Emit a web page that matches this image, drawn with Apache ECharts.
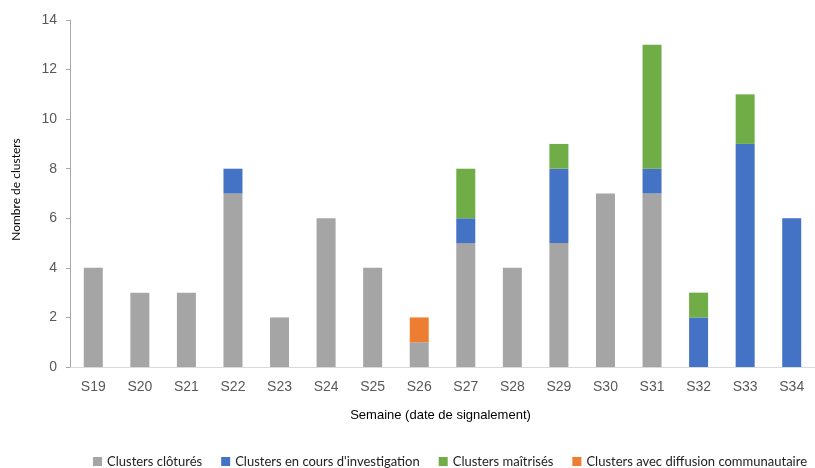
<!DOCTYPE html>
<html><head><meta charset="utf-8">
<script src="https://cdn.jsdelivr.net/npm/echarts@6/dist/echarts.min.js"></script>
<style>html,body{margin:0;padding:0;background:#fff}#c{width:815px;height:468px}</style>
</head><body><div id="c"></div>
<script>
const categories = ['S19','S20','S21','S22','S23','S24','S25','S26','S27','S28','S29','S30','S31','S32','S33','S34'];
const clotures =      [4,3,3,7,2,6,4,1,5,4,5,7,7,0,0,0];
const investigation = [0,0,0,1,0,0,0,0,1,0,3,0,1,2,9,6];
const maitrises =     [0,0,0,0,0,0,0,0,2,0,1,0,5,1,2,0];
const communautaire = [0,0,0,0,0,0,0,1,0,0,0,0,0,0,0,0];
const yTicks = [0,2,4,6,8,10,12,14];

const chart = echarts.init(document.getElementById('c'));
const mk = (name, data, color) => ({
  name, type: 'bar', stack: 'a', data: data.map(v => v === 0 ? null : v),
  barWidth: 19, itemStyle: {color}
});
chart.setOption({
  animation: false,
  textStyle: {fontFamily: 'Liberation Sans'},
  grid: {left: 70, right: -8, top: 20, bottom: 101},
  legend: {
    bottom: 0, left: 88, padding: [0, 5], itemWidth: 9, itemHeight: 9, itemGap: 19, icon: 'rect',
    textStyle: {fontFamily: 'Lato', fontSize: 13, color: '#222'},
    data: ['Clusters clôturés','Clusters en cours d\'investigation','Clusters maîtrisés','Clusters avec diffusion communautaire']
  },
  xAxis: {
    type: 'category', data: categories,
    name: 'Semaine (date de signalement)', nameLocation: 'middle', nameGap: 42,
    nameTextStyle: {fontSize: 13, color: '#000', padding: [0, 0, 0, -4]},
    axisLine: {lineStyle: {color: '#D9D9D9'}},
    axisTick: {show: false},
    axisLabel: {fontSize: 14, color: '#595959', margin: 13}
  },
  yAxis: {
    type: 'value', min: 0, max: 14, interval: 2,
    name: 'Nombre de clusters', nameLocation: 'middle', nameGap: 48,
    nameTextStyle: {fontFamily: 'Lato', fontSize: 12, color: '#000', padding: [0, 0, 0, 8]},
    axisLine: {show: true, lineStyle: {color: '#A6A6A6'}},
    axisTick: {show: true, length: 4, lineStyle: {color: '#A6A6A6'}},
    splitLine: {show: false},
    axisLabel: {fontSize: 14, color: '#595959', margin: 13,
      formatter: v => yTicks.includes(v) ? String(v) : ''}
  },
  series: [
    mk('Clusters clôturés', clotures, '#A5A5A5'),
    mk('Clusters en cours d\'investigation', investigation, '#4472C4'),
    mk('Clusters maîtrisés', maitrises, '#70AD47'),
    mk('Clusters avec diffusion communautaire', communautaire, '#ED7D31')
  ]
});
</script></body></html>
